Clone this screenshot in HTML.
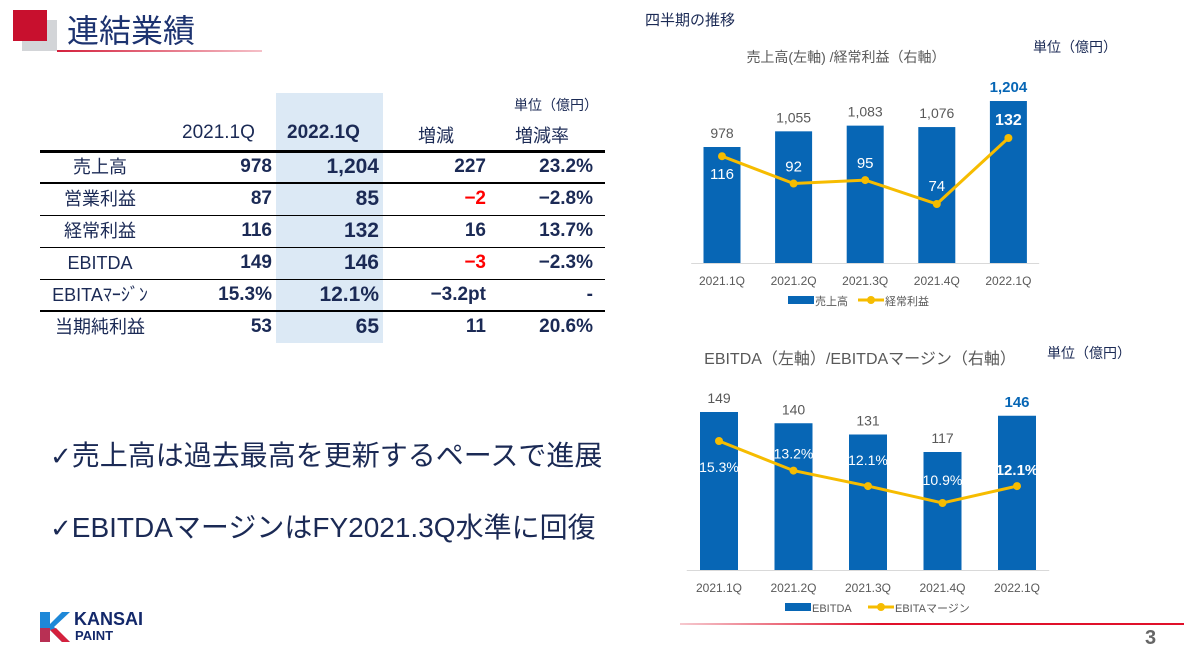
<!DOCTYPE html>
<html><head><meta charset="utf-8">
<style>
body{margin:0;width:1184px;height:656px;position:relative;background:#fff;overflow:hidden;font-family:"Liberation Sans","Noto Sans CJK JP",sans-serif;}
.a{position:absolute;white-space:nowrap;}
.navy{color:#1b2a55;}
.cell{position:absolute;font-size:19px;color:#1b2a55;font-weight:bold;text-align:right;width:100px;line-height:20px;}
.lab{position:absolute;font-size:18px;color:#1b2a55;text-align:center;width:120px;left:40px;line-height:20px;}
.hl{position:absolute;left:40px;width:565px;background:#000;}
</style></head><body>
<div class="a" style="left:22px;top:20px;width:35px;height:31px;background:#d3d5d8"></div>
<div class="a" style="left:13px;top:10px;width:34px;height:31px;background:#c8102e"></div>
<div class="a" style="left:67px;top:6px;font-size:32px;color:#1d3370;">連結業績</div>
<div class="a" style="left:57px;top:50px;width:205px;height:2px;background:linear-gradient(90deg,#d4213d,#f5c0c8)"></div>

<div class="a" style="left:645px;top:9px;font-size:15px;color:#1b2a55;">四半期の推移</div>

<div class="a" style="left:276px;top:93px;width:107px;height:250px;background:#dce9f5"></div>
<div class="a" style="left:514px;top:95px;font-size:14px;color:#1b2a55;">単位（億円）</div>
<div class="a navy" style="left:182px;top:122px;font-size:19px;">2021.1Q</div>
<div class="a navy" style="left:287px;top:122px;font-size:19px;font-weight:bold;">2022.1Q</div>
<div class="a navy" style="left:418px;top:122px;font-size:18px;">増減</div>
<div class="a navy" style="left:515px;top:122px;font-size:18px;">増減率</div>
<div class="hl" style="top:150px;height:3px"></div>
<div class="hl" style="top:182px;height:2px"></div>
<div class="hl" style="top:215px;height:1px"></div>
<div class="hl" style="top:247px;height:1px"></div>
<div class="hl" style="top:279px;height:1px"></div>
<div class="hl" style="top:310px;height:2px"></div>
<div id="tbl"></div>

<div class="a" style="left:50px;top:434px;font-size:28px;color:#1b2a55;"><span style="font-family:'DejaVu Sans',sans-serif;font-size:26px">✓</span>売上高は過去最高を更新するペースで進展</div>
<div class="a" style="left:50px;top:506px;font-size:28px;color:#1b2a55;"><span style="font-family:'DejaVu Sans',sans-serif;font-size:26px">✓</span>EBITDAマージンはFY2021.3Q水準に回復</div>

<svg class="a" style="left:38px;top:610px" width="34" height="34" viewBox="0 0 34 34">
<polygon points="2,2 12,2 12,14 24,2 32,2 16,17 32,32 24,32 12,20 12,32 2,32" fill="#1e88d8"/>
<polygon points="12,20 24,32 32,32 18,18" fill="#d4213d"/>
<polygon points="2,18 12,18 12,32 2,32" fill="#d4213d" opacity="0.85"/>
</svg>
<div class="a" style="left:74px;top:609px;font-size:18px;font-weight:bold;color:#13286a;">KANSAI</div>
<div class="a" style="left:75px;top:628px;font-size:13px;font-weight:bold;color:#13286a;">PAINT</div>

<div class="a" style="left:680px;top:623px;width:504px;height:2px;background:linear-gradient(90deg,#f6c9cf,#e0102a 40%,#e0102a)"></div>
<div class="a" style="left:1145px;top:627px;font-size:20px;font-weight:bold;color:#666;">3</div>

<svg id="ch" class="a" style="left:0;top:0" width="1184" height="656"></svg>

<script>
const rowLabels=["売上高","営業利益","経常利益","EBITDA","EBITAﾏｰｼﾞﾝ","当期純利益"];
const col2021=["978","87","116","149","15.3%","53"];
const col2022=["1,204","85","132","146","12.1%","65"];
const colChg=["227","−2","16","−3","−3.2pt","11"];
const colRate=["23.2%","−2.8%","13.7%","−2.3%","-","20.6%"];
const tbl=document.getElementById('tbl');
rowLabels.forEach((l,i)=>{
  const y=157+i*32;
  const mk=(txt,x,cls,extra)=>{const d=document.createElement('div');d.className=cls;d.textContent=txt;d.style.top=y+'px';if(x!=null)d.style.left=x+'px';if(extra)d.style.cssText+=extra;tbl.appendChild(d);return d;};
  let d=mk(l,null,'lab');
  
  
  d=mk(col2021[i],172,'cell','font-weight:bold');
  
  
  d=mk(col2022[i],279,'cell','font-size:21px');
  
  
  d=mk(colChg[i],386,'cell',colChg[i]=="−2"||colChg[i]=="−3"?'color:#ff0000':'');
  
  
  d=mk(colRate[i],493,'cell','');
  
  
});

const categories=["2021.1Q","2021.2Q","2021.3Q","2021.4Q","2022.1Q"];
const sales=[978,1055,1083,1076,1204];
const ordinaryProfit=[116,92,95,74,132];
const ebitda=[149,140,131,117,146];
const ebitdaMargin=[15.3,13.2,12.1,10.9,12.1];

const svg=document.getElementById('ch');
const NS='http://www.w3.org/2000/svg';
function el(tag,attrs,txt){const e=document.createElementNS(NS,tag);for(const k in attrs)e.setAttribute(k,attrs[k]);if(txt!=null)e.textContent=txt;svg.appendChild(e);return e;}
const BLUE='#0766b5',GOLD='#f6bc00',GRAY='#595959';

function drawChart(o){
  const xs=i=>o.x0+i*o.dx;
  const yb=v=>o.base-(v-o.bmin)*o.bk;
  const yl=v=>o.lref-(v-o.lv)*o.lk;
  let t=el('text',{x:o.titleX,y:o.titleY,'font-size':o.titleSize,fill:GRAY,'text-anchor':'middle'},o.title);
  
  
  t=el('text',{x:o.unitX,y:o.unitY,'font-size':14,fill:'#1b2a55'},'単位（億円）');
  
  
  o.bars.forEach((v,i)=>{
    const r=el('rect',{x:xs(i)-o.bw/2,y:yb(v),width:o.bw,height:o.base-yb(v),fill:BLUE});
    
    
    const last=i===o.bars.length-1;
    const lb=el('text',{x:xs(i),y:yb(v)-9,'font-size':last?15:14,'font-weight':last?'bold':'normal',fill:last?BLUE:GRAY,'text-anchor':'middle'},o.barFmt(v));
    
    
    const c=el('text',{x:xs(i),y:o.base+22,'font-size':12,fill:GRAY,'text-anchor':'middle'},categories[i]);
    
    
  });
  const ax=el('line',{x1:o.x0-o.dx/2+5,x2:o.x0+4.5*o.dx-5,y1:o.base+0.5,y2:o.base+0.5,stroke:'#d9d9d9'});
  
  
  const pl=el('polyline',{points:o.line.map((v,i)=>xs(i)+','+yl(v)).join(' '),fill:'none',stroke:GOLD,'stroke-width':3});
  
  
  o.line.forEach((v,i)=>{
    const c=el('circle',{cx:xs(i),cy:yl(v),r:4,fill:GOLD});
    
    
    const last=i===o.line.length-1;
    const lt=el('text',{x:xs(i),y:yl(v)+o.lOffY[i],'font-size':last?o.lSize+1:o.lSize,'font-weight':last?'bold':'normal',fill:'#fff','text-anchor':'middle'},o.lineFmt(v));
    
    
  });
  const lr=el('rect',{x:o.legX,y:o.legY-5,width:26,height:8,fill:BLUE});
  
  
  let lt=el('text',{x:o.legX+27,y:o.legY+4,'font-size':11,fill:GRAY},o.legBar);
  
  
  const lx=o.legX2;
  const ll=el('line',{x1:lx,x2:lx+26,y1:o.legY-1,y2:o.legY-1,stroke:GOLD,'stroke-width':3});
  
  
  const lc=el('circle',{cx:lx+13,cy:o.legY-1,r:4,fill:GOLD});
  
  
  lt=el('text',{x:lx+27,y:o.legY+4,'font-size':11,fill:GRAY},o.legLine);
  
  
}
drawChart({x0:722,dx:71.6,bw:37,base:263,bmin:408,bk:0.2035,lref:204,lv:74,lk:1.138,
  bars:sales,line:ordinaryProfit,barFmt:v=>v.toLocaleString('en-US'),lineFmt:v=>String(v),
  lOffY:[23,-12,-12,-13,-13],lSize:15,
  title:'売上高(左軸) /経常利益（右軸）',titleX:846,titleY:62,titleSize:14,unitX:1033,unitY:52,
  legX:788,legX2:858,legY:301,legBar:'売上高',legLine:'経常利益'});
drawChart({x0:719,dx:74.5,bw:38,base:570,bmin:22.6,bk:1.25,lref:441,lv:15.3,lk:14.09,
  bars:ebitda,line:ebitdaMargin,barFmt:v=>String(v),lineFmt:v=>v.toFixed(1)+'%',
  lOffY:[31,-12,-21,-18,-11],lSize:14,
  title:'EBITDA（左軸）/EBITDAマージン（右軸）',titleX:860,titleY:364,titleSize:16,unitX:1047,unitY:358,
  legX:785,legX2:868,legY:608,legBar:'EBITDA',legLine:'EBITAマージン'});
</script>
</body></html>
